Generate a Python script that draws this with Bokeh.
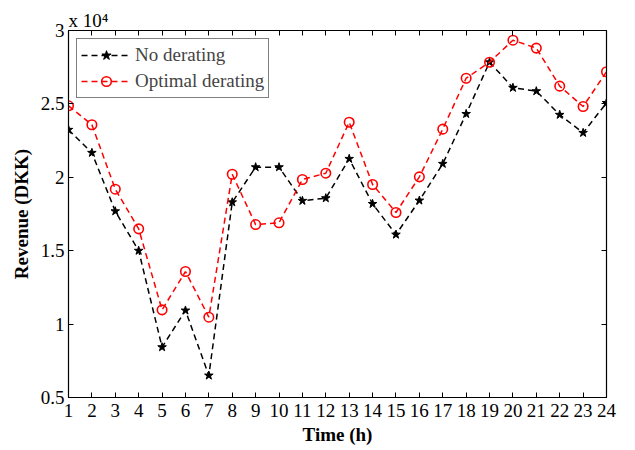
from bokeh.plotting import figure
from bokeh.models import LinearAxis, FixedTicker, Range1d, Legend, LegendItem
from bokeh.embed import file_html
from bokeh.resources import INLINE

hours = list(range(1, 25))
no_derating = [2.324, 2.167, 1.769, 1.500, 0.843, 1.093, 0.650, 1.830, 2.069, 2.069, 1.840, 1.858,
               2.126, 1.819, 1.610, 1.842, 2.092, 2.432, 2.784, 2.610, 2.587, 2.426, 2.303, 2.507]
optimal_derating = [2.487, 2.358, 1.919, 1.649, 1.097, 1.358, 1.047, 2.021, 1.678, 1.690, 1.985, 2.028,
                    2.375, 1.951, 1.760, 2.003, 2.328, 2.675, 2.784, 2.934, 2.880, 2.621, 2.482, 2.719]
y_ticks = [0.5, 1, 1.5, 2, 2.5, 3]
y_tick_labels = {0.5: "0.5", 1: "1", 1.5: "1.5", 2: "2", 2.5: "2.5", 3: "3"}
scale_text = "x 10\u2074"

FONT = "Liberation Serif"
FS = "19px"

p = figure(width=635, height=450, output_backend="svg", toolbar_location=None,
           x_range=Range1d(1, 24), y_range=Range1d(0.5, 3),
           min_border_left=68, min_border_right=29, min_border_top=30, min_border_bottom=53)
p.xgrid.visible = False
p.ygrid.visible = False
p.outline_line_color = "black"
p.outline_line_width = 1.2
p.background_fill_color = "white"
p.border_fill_color = "white"

p.title.text = scale_text
p.title.align = "left"
p.title.text_font = FONT
p.title.text_font_size = FS
p.title.text_font_style = "normal"
p.title.text_color = "black"
p.title.standoff = 0
p.title.offset = 0

for ax in (p.xaxis[0], p.yaxis[0]):
    ax.major_tick_in = 5
    ax.major_tick_out = 0
    ax.minor_tick_in = 0
    ax.minor_tick_out = 0
    ax.axis_line_color = "black"
    ax.major_label_text_font = FONT
    ax.major_label_text_font_size = FS
    ax.major_label_text_color = "black"
    ax.axis_label_text_font = FONT
    ax.axis_label_text_font_size = FS
    ax.axis_label_text_font_style = "bold"
    ax.axis_label_text_color = "black"

p.xaxis[0].major_label_standoff = 6
p.xaxis[0].axis_label_standoff = 4
p.yaxis[0].major_label_standoff = 4
p.yaxis[0].axis_label_standoff = 6

p.xaxis[0].ticker = FixedTicker(ticks=hours)
p.yaxis[0].ticker = FixedTicker(ticks=y_ticks)
p.yaxis[0].major_label_overrides = y_tick_labels
p.xaxis[0].axis_label = "Time (h)"
p.yaxis[0].axis_label = "Revenue (DKK)"

top = LinearAxis(ticker=FixedTicker(ticks=hours), major_tick_in=5, major_tick_out=0,
                 minor_tick_in=0, minor_tick_out=0,
                 major_label_overrides={h: "" for h in hours},
                 axis_line_color="black", major_label_standoff=0)
right = LinearAxis(ticker=FixedTicker(ticks=y_ticks), major_tick_in=5, major_tick_out=0,
                   minor_tick_in=0, minor_tick_out=0,
                   major_label_overrides={t: "" for t in y_ticks},
                   axis_line_color="black", major_label_standoff=0)
p.add_layout(top, "above")
p.add_layout(right, "right")

l1 = p.line(hours, no_derating, line_color="black", line_dash="6 4", line_width=1.5)
s1 = p.scatter(hours, no_derating, marker="star", size=9, fill_color="black", line_color="black")
l2 = p.line(hours, optimal_derating, line_color="red", line_dash="6 4", line_width=1.5)
s2 = p.scatter(hours, optimal_derating, marker="circle", size=9.5, fill_color=None,
               line_color="red", line_width=1.6)

legend = Legend(items=[LegendItem(label="No derating", renderers=[l1, s1]),
                       LegendItem(label="Optimal derating", renderers=[l2, s2])],
                location="top_left")
legend.margin = 8
legend.padding = 4
legend.spacing = 2
legend.glyph_width = 50
legend.glyph_height = 24
legend.label_text_font = FONT
legend.label_text_font_size = FS
legend.label_standoff = 4
legend.border_line_color = "black"
legend.border_line_width = 1
legend.background_fill_alpha = 1
p.add_layout(legend)

open("out.html", "w").write(file_html(p, INLINE))
